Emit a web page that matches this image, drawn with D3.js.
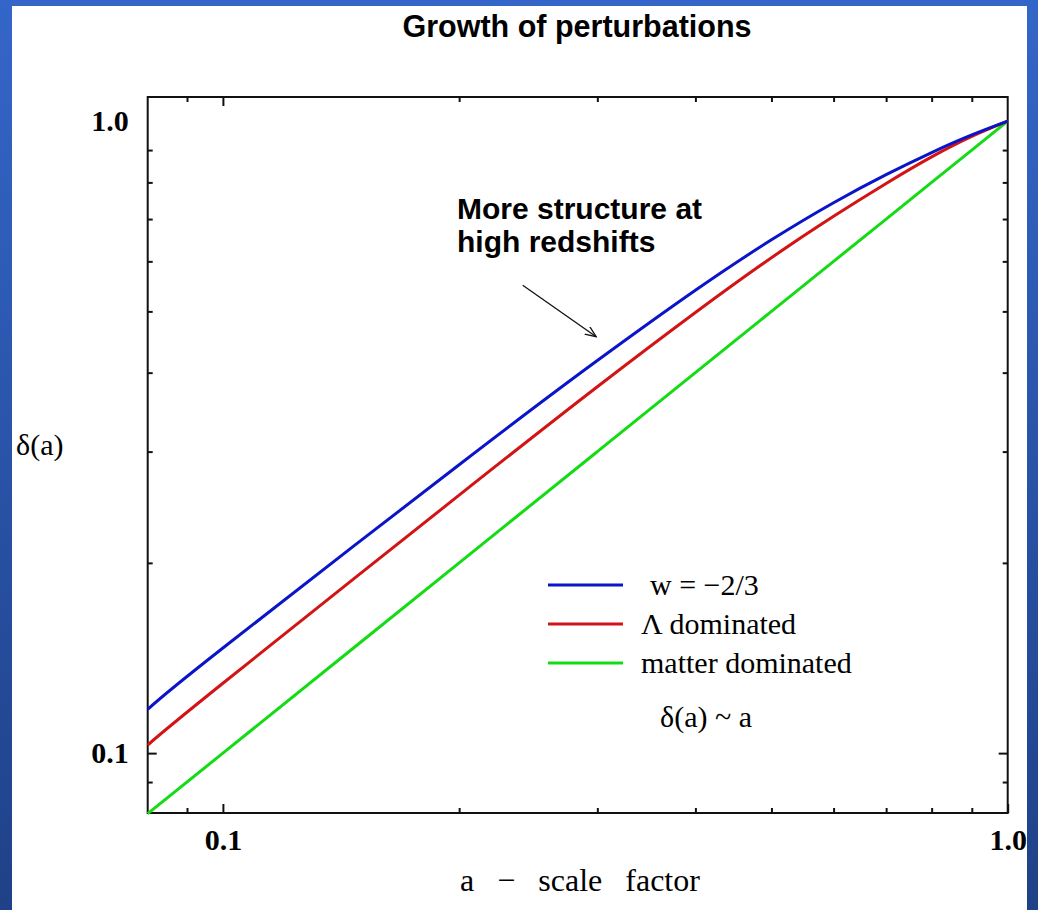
<!DOCTYPE html>
<html>
<head>
<meta charset="utf-8">
<script src="https://cdn.jsdelivr.net/npm/d3@7"></script>
<style>
  html, body { margin: 0; padding: 0; background: #fff; }
  svg { display: block; }
</style>
</head>
<body>
<svg id="chart" width="1038" height="910"></svg>
<script>
// ---- data ----
const scaleFactor = [0.0802, 0.1, 0.2, 0.3, 0.4, 0.5, 0.6, 0.7, 0.8, 0.9, 1.0];
const deltaW      = [0.1173, 0.1467, 0.286, 0.418, 0.540, 0.649, 0.743, 0.823, 0.892, 0.951, 1.0];
const deltaLambda = [0.103, 0.129, 0.256, 0.380, 0.498, 0.608, 0.707, 0.797, 0.878, 0.946, 1.0];
const deltaMatter = [0.0802, 0.1, 0.2, 0.3, 0.4, 0.5, 0.6, 0.7, 0.8, 0.9, 1.0];

const seriesNames  = ["w = \u22122/3", "\u039B dominated", "matter dominated"];
const seriesColors = ["#0a14c8", "#d21414", "#14dc14"];

const xMajorTicks = [0.1, 1.0];
const xMinorTicks = [0.09, 0.2, 0.3, 0.4, 0.5, 0.6, 0.7, 0.8, 0.9];
const yMajorTicks = [0.1, 1.0];
const yMinorTicks = [0.09, 0.2, 0.3, 0.4, 0.5, 0.6, 0.7, 0.8, 0.9];
const tickLabels  = ["0.1", "1.0"];

const xDomain = [0.0802, 1.0];
const yDomain = [0.0804, 1.092];

// ---- layout ----
const svg = d3.select("#chart");
const W = 1038, H = 910;
const plot = { left: 147.7, right: 1007.7, top: 97, bottom: 813 };

// background frame
const defs = svg.append("defs");
const grad = defs.append("linearGradient").attr("id", "bg").attr("x1", 0).attr("y1", 0).attr("x2", 0).attr("y2", 1);
grad.append("stop").attr("offset", "0%").attr("stop-color", "#3466c9");
grad.append("stop").attr("offset", "100%").attr("stop-color", "#1f4187");
svg.append("rect").attr("width", W).attr("height", H).attr("fill", "url(#bg)");
svg.append("rect").attr("x", 12).attr("y", 6).attr("width", 1015).attr("height", H - 6).attr("fill", "#fff");

const x = d3.scaleLog().domain(xDomain).range([plot.left, plot.right]);
const y = d3.scaleLog().domain(yDomain).range([plot.bottom, plot.top]);

// title
svg.append("text")
  .attr("x", 577).attr("y", 37)
  .attr("text-anchor", "middle")
  .attr("font-family", "'Liberation Sans', Arial, sans-serif")
  .attr("font-weight", "bold")
  .attr("font-size", 30.5)
  .attr("fill", "#000")
  .text("Growth of perturbations");

// plot frame
svg.append("rect")
  .attr("x", plot.left).attr("y", plot.top)
  .attr("width", plot.right - plot.left).attr("height", plot.bottom - plot.top)
  .attr("fill", "none").attr("stroke", "#111").attr("stroke-width", 2);

function styleAxis(g) {
  g.select(".domain").remove();
  g.selectAll(".tick line").attr("stroke", "#111").attr("stroke-width", 2);
  g.selectAll(".tick text")
    .attr("font-family", "'Liberation Serif', 'Times New Roman', serif")
    .attr("font-weight", "bold")
    .attr("font-size", 30)
    .attr("fill", "#000");
}
const fmt = d => tickLabels[xMajorTicks.indexOf(d)];

// bottom axis (ticks point inward)
svg.append("g").attr("transform", `translate(0,${plot.bottom})`)
  .call(d3.axisBottom(x).tickValues(xMajorTicks).tickFormat(fmt).tickSizeInner(-9).tickSizeOuter(0).tickPadding(16))
  .call(styleAxis);
svg.append("g").attr("transform", `translate(0,${plot.bottom})`)
  .call(d3.axisBottom(x).tickValues(xMinorTicks).tickFormat("").tickSizeInner(-5).tickSizeOuter(0))
  .call(styleAxis);
// top axis
svg.append("g").attr("transform", `translate(0,${plot.top})`)
  .call(d3.axisTop(x).tickValues([0.1]).tickFormat("").tickSizeInner(-9).tickSizeOuter(0))
  .call(styleAxis);
svg.append("g").attr("transform", `translate(0,${plot.top})`)
  .call(d3.axisTop(x).tickValues(xMinorTicks).tickFormat("").tickSizeInner(-5).tickSizeOuter(0))
  .call(styleAxis);
// left axis
const fmtY = d => tickLabels[yMajorTicks.indexOf(d)];
const yl = svg.append("g").attr("transform", `translate(${plot.left},0)`)
  .call(d3.axisLeft(y).tickValues(yMajorTicks).tickFormat(fmtY).tickSizeInner(-9).tickSizeOuter(0).tickPadding(19))
  .call(styleAxis);
yl.selectAll(".tick").filter(d => d === 1.0).select("line").remove();
svg.append("g").attr("transform", `translate(${plot.left},0)`)
  .call(d3.axisLeft(y).tickValues(yMinorTicks).tickFormat("").tickSizeInner(-5).tickSizeOuter(0))
  .call(styleAxis);
// right axis
svg.append("g").attr("transform", `translate(${plot.right},0)`)
  .call(d3.axisRight(y).tickValues([0.1]).tickFormat("").tickSizeInner(-9).tickSizeOuter(0))
  .call(styleAxis);
svg.append("g").attr("transform", `translate(${plot.right},0)`)
  .call(d3.axisRight(y).tickValues(yMinorTicks).tickFormat("").tickSizeInner(-5).tickSizeOuter(0))
  .call(styleAxis);

// axis titles
svg.append("text")
  .attr("x", 16).attr("y", 455)
  .attr("font-family", "'Liberation Serif', 'Times New Roman', serif")
  .attr("font-size", 30).attr("fill", "#000")
  .text("\u03B4(a)");
svg.append("text")
  .attr("x", 580).attr("y", 891)
  .attr("text-anchor", "middle")
  .attr("font-family", "'Liberation Serif', 'Times New Roman', serif")
  .attr("font-size", 32).attr("fill", "#000")
  .attr("word-spacing", 15)
  .text("a \u2212 scale factor");

// curves
const allSeries = [deltaW, deltaLambda, deltaMatter];
const line = d3.line()
  .x((d, i) => x(scaleFactor[i]))
  .y(d => y(d))
  .curve(d3.curveNatural);
const curves = svg.append("g");
// draw matter, lambda, then w on top
[2, 1, 0].forEach(k => {
  curves.append("path")
    .datum(allSeries[k])
    .attr("d", line)
    .attr("fill", "none")
    .attr("stroke", seriesColors[k])
    .attr("stroke-width", 3)
    .attr("stroke-linejoin", "round");
});

// legend
const legend = svg.append("g");
const legendRows = [585, 624, 663];
const legendTextX = [650, 641, 641];
seriesNames.forEach((name, k) => {
  legend.append("line")
    .attr("x1", 548).attr("x2", 623)
    .attr("y1", legendRows[k]).attr("y2", legendRows[k])
    .attr("stroke", seriesColors[k]).attr("stroke-width", 3);
  legend.append("text")
    .attr("x", legendTextX[k]).attr("y", legendRows[k] + 10)
    .attr("font-family", "'Liberation Serif', 'Times New Roman', serif")
    .attr("font-size", 30).attr("fill", "#000")
    .text(name);
});
legend.append("text")
  .attr("x", 660).attr("y", 727)
  .attr("font-family", "'Liberation Serif', 'Times New Roman', serif")
  .attr("font-size", 30).attr("fill", "#000")
  .text("\u03B4(a) ~ a");

// annotation
const ann = svg.append("g")
  .attr("font-family", "'Liberation Sans', Arial, sans-serif")
  .attr("font-weight", "bold").attr("font-size", 30).attr("fill", "#000");
ann.append("text").attr("x", 457).attr("y", 219).text("More structure at");
ann.append("text").attr("x", 457).attr("y", 252).text("high redshifts");

defs.append("marker").attr("id", "arrow")
  .attr("viewBox", "0 0 12 10").attr("refX", 11).attr("refY", 5)
  .attr("markerWidth", 12).attr("markerHeight", 10)
  .attr("markerUnits", "userSpaceOnUse").attr("orient", "auto")
  .append("path").attr("d", "M0,0.5 L11,5 L0,9.5")
  .attr("fill", "none").attr("stroke", "#111").attr("stroke-width", 1.3);
svg.append("line")
  .attr("x1", x(0.241)).attr("y1", y(0.550))
  .attr("x2", x(0.299)).attr("y2", y(0.456))
  .attr("stroke", "#111").attr("stroke-width", 1.3)
  .attr("marker-end", "url(#arrow)");
</script>
</body>
</html>
